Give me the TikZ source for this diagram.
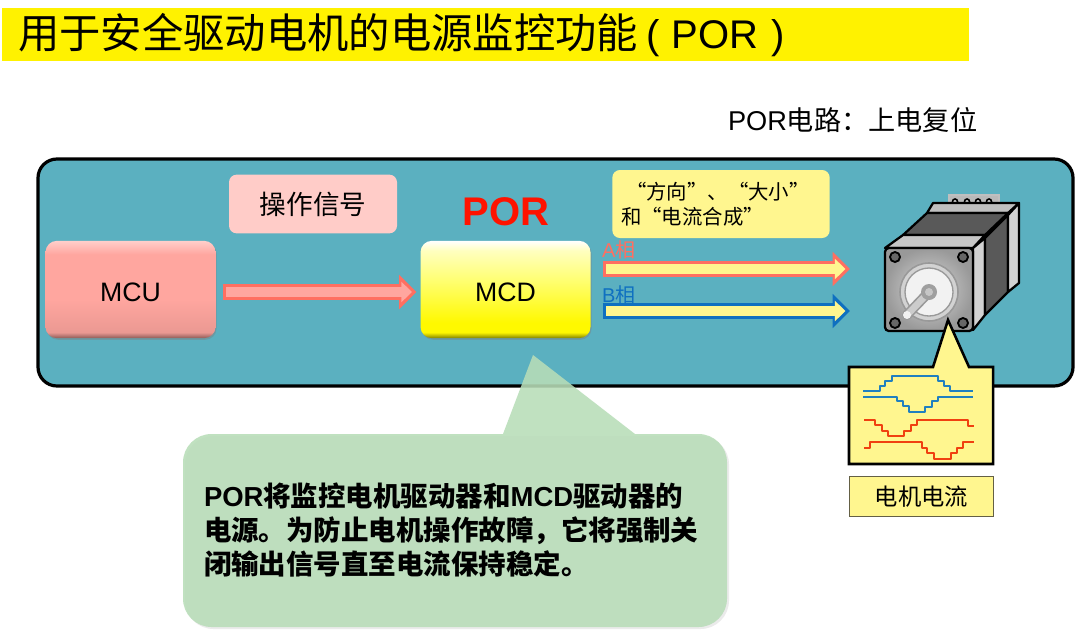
\documentclass[tikz,border=0pt]{standalone}
\usepackage{fontspec}
\setmainfont{Liberation Sans}
\newfontfamily\cjk{Noto Sans CJK SC}
\newcommand{\cn}[1]{{\cjk #1}}
\usetikzlibrary{arrows.meta,calc,positioning,shadows}
\definecolor{bannerY}{HTML}{FFF200}
\definecolor{panelT}{HTML}{5BB0C0}
\definecolor{noteY}{HTML}{FFF68F}
\definecolor{notePk}{HTML}{FFCCC8}
\definecolor{arrowR}{HTML}{FF6F61}
\definecolor{arrowP}{HTML}{FFA69F}
\definecolor{arrowB}{HTML}{0F70C0}
\definecolor{calloutG}{HTML}{B8DDB8}
\definecolor{waveB}{HTML}{2080C0}
\definecolor{waveR}{HTML}{F04010}
\pgfdeclareverticalshading{mcushade}{100bp}{color(0bp)=(black!60!arrowP); color(25bp)=(black!45!arrowP); color(28bp)=(black!8!arrowP); color(45bp)=(arrowP); color(68bp)=(arrowP); color(75bp)=(white!45!arrowP); color(100bp)=(white!45!arrowP)}
\pgfdeclareverticalshading{mcdshade}{100bp}{color(0bp)=(black!55!yellow); color(25bp)=(black!50!yellow); color(28bp)=(yellow!95!orange); color(33bp)=(yellow!95!orange); color(55bp)=(yellow!55!white); color(70bp)=(yellow!25!white); color(75bp)=(white); color(100bp)=(white)}
\tikzset{
  chip/.style={rounded corners=3mm,inner sep=0,minimum width=127.5pt,minimum height=73pt,font=\fontsize{20}{24}\selectfont},
  chipshadow/.style={drop shadow={opacity=.45,shadow xshift=.8pt,shadow yshift=-1.2pt}},
  outerarrow/.style={line width=12.6pt,-{Triangle[length=13pt,width=25pt]}},
  innerarrow/.style={line width=7pt,shorten >=3.4pt,-{Triangle[length=8pt,width=15pt]}},
  wave/.style={line width=1.75pt,line join=round},
  motorline/.style={draw=black,line width=1.7pt,line join=round},
}
\begin{document}
\begin{tikzpicture}[x=.75pt,y=-.75pt,inner sep=0,outer sep=0]
   \useasboundingbox (0,0) rectangle (1080,633);
   \fill[white] (0,0) rectangle (1080,633);

   % Title
   \fill[bannerY] (2,8) rectangle (969,61);
   \node[anchor=west,font=\fontsize{30}{36}\selectfont] (title) at (18,35) {{\fontsize{31}{36}\selectfont\cjk 用于安全驱动电机的电源监控功能}\hspace{6pt}(\hspace{9pt}POR\hspace{10pt})};
   \node[anchor=west,font=\fontsize{20.4}{24}\selectfont] (por circuit) at (728,120) {POR\cn{电路：上电复位}};

   % Panel
   \draw[fill=panelT,line width=2.4pt,rounded corners=5mm] (38,159) rectangle (1073,386);

   % Blocks
   \node[chip,shading=mcushade,chipshadow] (mcu) at (130.5,289.5) {\raisebox{-9pt}[0pt][0pt]{MCU}};
   \node[chip,shading=mcdshade,chipshadow] (mcd) at (505.5,289.5) {\raisebox{-9pt}[0pt][0pt]{MCD}};
   \node[fill=notePk,rounded corners=2mm,minimum width=126pt,minimum height=44pt,font=\fontsize{20}{24}\selectfont\cjk] (signal) at (313,204) {操作信号};
   \node[font=\fontsize{30}{36}\selectfont\bfseries,text=red!85!orange] (por) at (506,212) {POR};
   \node[fill=noteY,rounded corners=2mm,minimum width=163pt,minimum height=51pt] (note) at (721,204) {};
   \node[anchor=west,font=\fontsize{15.3}{18}\selectfont\cjk] (note one) at (626,192) {“方向”、“大小”};
   \node[anchor=west,font=\fontsize{15.3}{18}\selectfont\cjk] (note two) at (621,217) {和“电流合成”};

   % Arrows
   \coordinate (sigstart) at ($(mcu.east)+(7,2.5)$);
   \coordinate (sigend) at ($(mcd.west)+(-4,2.5)$);
   \coordinate (astart) at ($(mcd.east)+(12,-20.5)$);
   \coordinate (aend) at (850,269);
   \coordinate (bstart) at ($(mcd.east)+(12,21.5)$);
   \coordinate (bend) at (850,311);
   \draw[outerarrow,arrowR] (sigstart) -- (sigend);
   \draw[innerarrow,arrowP] ($(sigstart)+(3.5,0)$) -- (sigend);
   \draw[outerarrow,arrowR] (astart) -- (aend);
   \draw[innerarrow,noteY] ($(astart)+(3.5,0)$) -- (aend);
   \draw[outerarrow,arrowB] (bstart) -- (bend);
   \draw[innerarrow,noteY] ($(bstart)+(3.5,0)$) -- (bend);
   \node[anchor=west,text=arrowR,font=\fontsize{15}{18}\selectfont] (a phase) at (602,250) {A\cn{相}};
   \node[anchor=west,text=arrowB,font=\fontsize{15}{18}\selectfont] (b phase) at (602,295) {B\cn{相}};

   % Motor
   \draw[draw=gray!50,line width=1pt,fill=gray!55] (949,195) rectangle (999,207);
   \foreach \hx in {955,967,978,989}
     \draw[fill=gray!45,line width=1.2pt] (\hx,201.5) circle (2.5);
   \draw[motorline,fill=gray!50] (927,213) -- (933,203) -- (1019,203) -- (1008,213) -- cycle;
   \draw[motorline,fill=black!65] (903,235) -- (927,213) -- (1008,213) -- (985,235) -- cycle;
   \draw[motorline,fill=gray!45] (885,248) -- (903,235) -- (985,235) -- (973,248) -- cycle;
   \draw[motorline,fill=gray!35] (973,248) -- (985,238) -- (985,315) -- (973,330) -- cycle;
   \draw[motorline,fill=black!65] (985,238) -- (1008,215) -- (1008,292) -- (985,315) -- cycle;
   \draw[motorline,fill=gray!35] (1008,215) -- (1019,203) -- (1019,283) -- (1008,292) -- cycle;
   \shade[motorline,rounded corners=1mm,inner color=gray!30,outer color=gray!80] (885,248) rectangle (973,331);
   \foreach \hx/\hy in {895/257,963/257,895/323,963/323}
     \draw[fill=black!60,line width=1.4pt] (\hx,\hy) circle (5);
   \draw[gray!80,line width=1.2pt,fill=gray!35] (929,292) circle (29);
   \draw[gray!80,line width=1pt,fill=gray!10] (929,292) circle (24);
   \draw[gray!80,line width=7.5pt,line cap=round] (929,292) -- (907,315);
   \draw[gray!40,line width=5pt,line cap=round] (929,292) -- (907,315);
   \fill[gray!10] (907,315) circle (4);
   \fill[gray!75] (929,292) circle (8);
   \fill[gray!45] (929,292) circle (4);

   % Motor current
   \draw[fill=noteY,line width=1.9pt,line join=miter] (849,367) -- (933,367) -- (948,320) -- (969,367) -- (993,367) -- (993,464) -- (849,464) -- cycle;
   \draw[wave,waveB] (863,391) -| (880,386) -| (885,381) -| (892,376) -| (938,381) -| (944,386) -| (950,391) -- (973,391);
   \draw[wave,waveB] (863,397) -| (897,401) -| (903,406) -| (909,412) -| (925,407) -| (932,401) -| (938,397) -- (973,397);
   \draw[wave,waveR] (864,420) -| (875,425) -| (882,431) -| (888,436) -| (904,431) -| (911,425) -| (917,420) -| (968,426) -- (974,426);
   \draw[wave,waveR] (864,448) -| (870,442) -| (922,448) -| (927,453) -| (934,459) -| (951,453) -| (957,448) -| (963,442) -- (974,442);
   \node[draw=black!70!yellow,fill=noteY,line width=.8pt,minimum width=108.5pt,minimum height=30.5pt,font=\fontsize{17.5}{21}\selectfont\cjk] (current) at (921.5,496.5) {电机电流};

   % Callout
   \fill[black,opacity=.08,rounded corners=7.5mm] (185,436) rectangle (729,629);
   \fill[calloutG,fill opacity=.88] (183,500) [rounded corners=7.5mm] -- (183,434) -- (400,434) [sharp corners] -- (503,434) -- (533,355) -- (635,434) -- (660,434) [rounded corners=7.5mm] -- (727,434) -- (727,627) -- (183,627) -- cycle;
   \node[anchor=north west,align=left,font=\fontsize{20.6}{25.5}\selectfont\bfseries] (por text) at (204,483) {POR\cn{将监控电机驱动器和}MCD\cn{驱动器的}\\\cn{电源。为防止电机操作故障，它将强制关}\\\cn{闭输出信号直至电流保持稳定。}};
\end{tikzpicture}
\end{document}
